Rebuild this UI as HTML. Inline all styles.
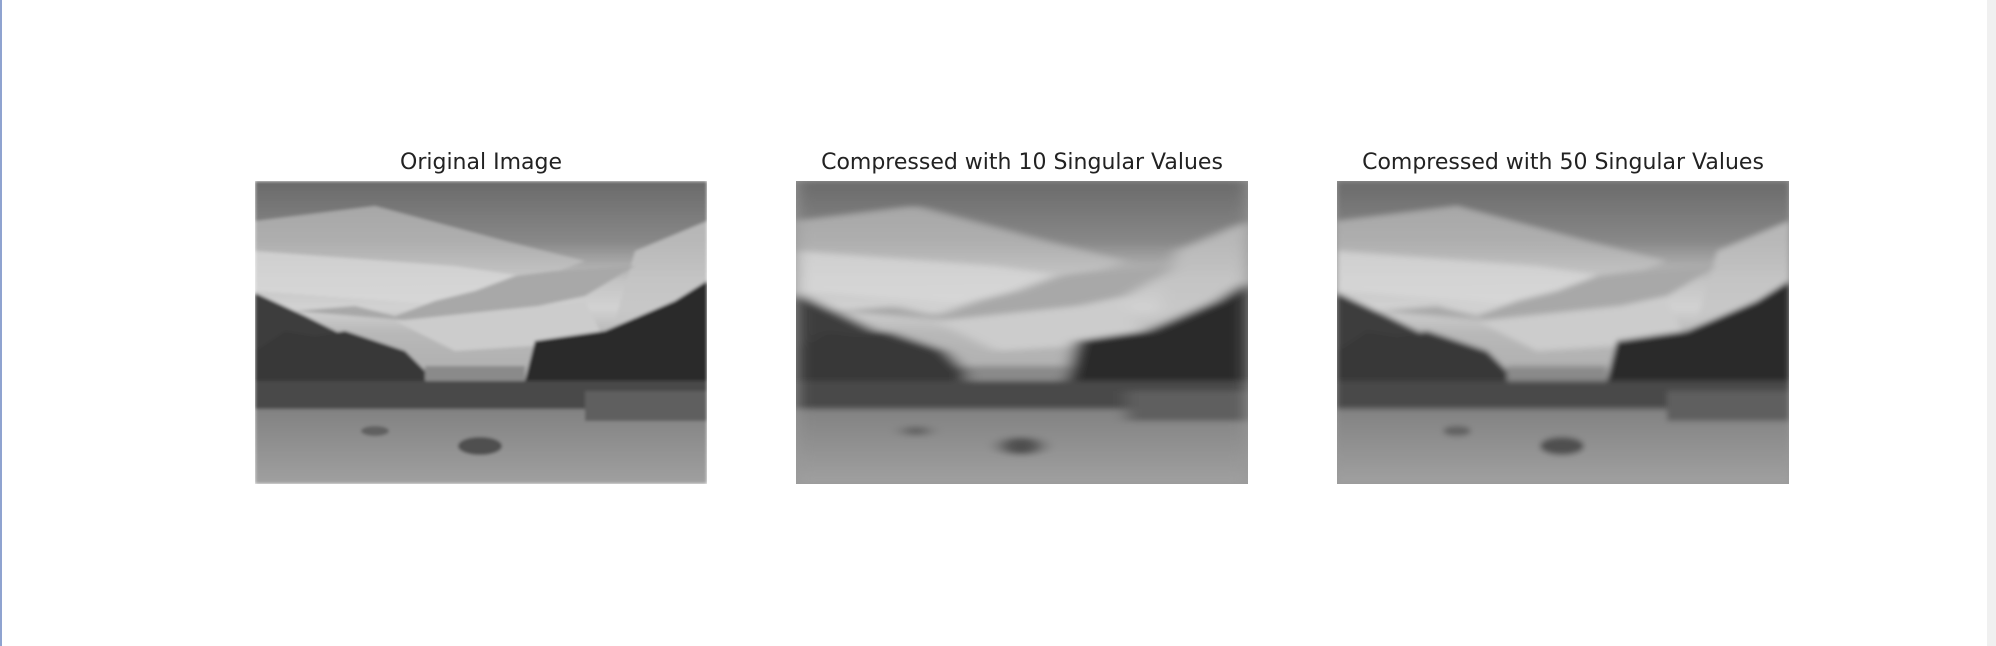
<!DOCTYPE html>
<html><head><meta charset="utf-8">
<style>
html,body{margin:0;padding:0;background:#fff;width:1996px;height:646px;overflow:hidden;position:relative;font-family:"DejaVu Sans","Liberation Sans",sans-serif;}
.title{position:absolute;top:150px;font-size:22px;color:#222;text-align:center;width:452px;white-space:nowrap;}
.pic{position:absolute;top:181px;width:452px;height:303px;}
</style></head>
<body>
<div style="position:absolute;left:0;top:0;width:2px;height:646px;background:#8fa3d0"></div>
<div style="position:absolute;left:1987px;top:0;width:9px;height:646px;background:#f0f0f0"></div>

<svg width="0" height="0" style="position:absolute">
<defs>
<linearGradient id="sky" x1="0" y1="0" x2="0" y2="1">
<stop offset="0" stop-color="#6a6a6a"/><stop offset="0.2" stop-color="#888"/><stop offset="0.33" stop-color="#c4c4c4"/><stop offset="0.42" stop-color="#d2d2d2"/><stop offset="0.5" stop-color="#b8b8b8"/><stop offset="1" stop-color="#999"/>
</linearGradient>
<linearGradient id="ground" x1="0" y1="0" x2="0" y2="1">
<stop offset="0" stop-color="#828282"/><stop offset="1" stop-color="#a0a0a0"/>
</linearGradient>
<filter id="b1"><feGaussianBlur stdDeviation="1.5"/></filter>
<filter id="b10"><feGaussianBlur stdDeviation="8 3"/></filter>
<filter id="b50"><feGaussianBlur stdDeviation="3"/></filter>
<g id="scene">
<rect width="452" height="303" fill="url(#sky)"/>
<polygon points="0,40 120,25 250,60 330,80 250,110 0,100" fill="#c8c8c8" opacity="0.6"/>
<polygon points="0,70 200,85 300,100 200,125 0,110" fill="#dadada" opacity="0.7"/>
<polygon points="380,70 452,40 452,120 360,140" fill="#c4c4c4" opacity="0.8"/>
<polygon points="40,130 100,125 140,135 180,120 220,110 260,95 300,90 380,85 330,115 260,130 160,140" fill="#a8a8a8"/>
<polygon points="0,112 50,135 110,165 0,185" fill="#3c3c3c"/>
<polygon points="140,140 330,120 350,160 200,170" fill="#cccccc"/>
<polygon points="280,160 350,150 420,120 452,100 452,210 270,200" fill="#2c2c2c"/>
<polygon points="0,170 30,150 60,155 90,150 120,160 150,170 180,200 0,215" fill="#383838"/>
<rect x="170" y="185" width="100" height="15" fill="#8a8a8a"/>
<rect x="0" y="200" width="452" height="30" fill="#484848"/>
<rect x="0" y="228" width="452" height="75" fill="url(#ground)"/>
<rect x="330" y="210" width="122" height="30" fill="#5e5e5e"/>
<ellipse cx="225" cy="265" rx="22" ry="9" fill="#505050"/>
<ellipse cx="120" cy="250" rx="14" ry="5" fill="#606060"/>
</g>
</defs>
</svg>

<div class="title" style="left:255px">Original Image</div>
<svg class="pic" style="left:255px" viewBox="0 0 452 303"><g filter="url(#b1)"><use href="#scene"/></g></svg>

<div class="title" style="left:796px">Compressed with 10 Singular Values</div>
<svg class="pic" style="left:796px" viewBox="0 0 452 303"><rect width="452" height="303" fill="#999"/><g filter="url(#b10)"><use href="#scene"/></g></svg>

<div class="title" style="left:1337px">Compressed with 50 Singular Values</div>
<svg class="pic" style="left:1337px" viewBox="0 0 452 303"><rect width="452" height="303" fill="#999"/><g filter="url(#b50)"><use href="#scene"/></g></svg>
</body></html>
